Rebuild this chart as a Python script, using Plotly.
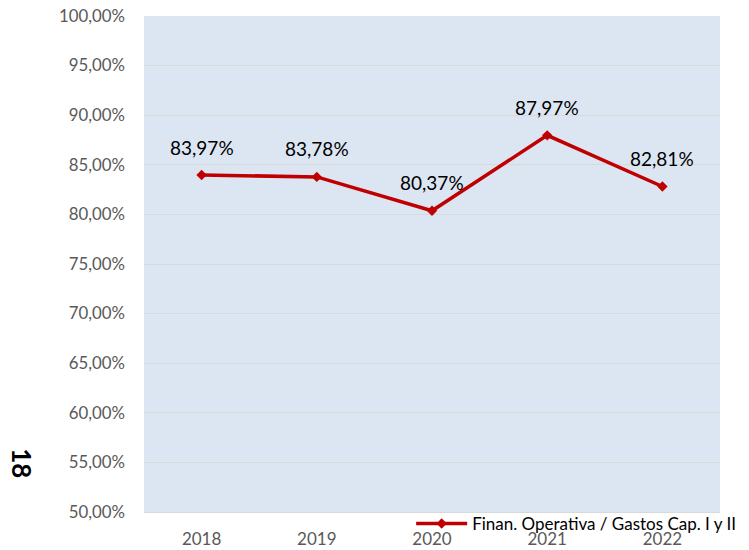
import plotly.graph_objects as go

years = [2018, 2019, 2020, 2021, 2022]
ratio = [0.8397, 0.8378, 0.8037, 0.8797, 0.8281]
series_name = "Finan. Operativa / Gastos Cap. I y II"

FONT = "Lato, Open Sans, sans-serif"

fig = go.Figure()
fig.add_trace(go.Scatter(
    x=years, y=ratio, name=series_name, mode="lines+markers",
    line=dict(color="#C00000", width=3.5),
    marker=dict(symbol="diamond", size=8, color="#C00000"),
))

for yr, v in zip(years, ratio):
    fig.add_annotation(
        x=yr, y=v, text=f"{v * 100:.2f}%".replace(".", ","),
        showarrow=False, yshift=28, font=dict(family=FONT, size=19, color="#000000"),
    )

# page number printed sideways at the left
fig.add_annotation(
    x=-0.242, y=0.065, xref="paper", yref="paper", text="<b>18</b>", showarrow=False,
    textangle=90, font=dict(family=FONT, size=26, color="#000000"),
)

# the page body adds 8px around the plot, so the figure is a bit smaller
fig.update_layout(
    width=741, height=542,
    margin=dict(l=136, r=25, t=8, b=38),
    paper_bgcolor="white", plot_bgcolor="#DCE6F2",
    separators=",.",
    font=dict(family=FONT, size=16, color="#595959"),
    showlegend=True,
    legend=dict(
        x=0.4638, y=-0.0242, xanchor="left", yanchor="middle", itemwidth=51,
        bgcolor="rgba(0,0,0,0)", font=dict(family=FONT, size=17, color="#000000"),
    ),
    xaxis=dict(
        type="linear", range=[years[0] - 0.5, years[-1] + 0.5], automargin=False,
        tickvals=years, ticktext=[str(y) for y in years],
        showgrid=False, showline=True, linecolor="#D9D9D9", ticks="",
        ticklabelstandoff=12, tickfont=dict(size=17, color="#595959"),
        ticklabeloverflow="allow",
    ),
    yaxis=dict(
        automargin=False,
        range=[0.5, 1.0], dtick=0.05, tickformat=".2%", showgrid=True,
        gridcolor="#D9D9D9", gridwidth=1, zeroline=False, ticks="",
        ticklabelstandoff=18, tickfont=dict(size=16.8, color="#595959"),
        ticklabeloverflow="allow",
    ),
)

fig.write_html("out.html")
